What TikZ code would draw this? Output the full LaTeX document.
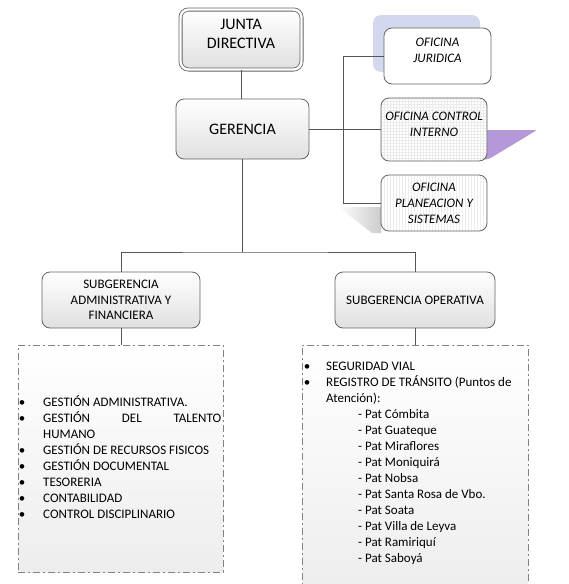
\documentclass[tikz,border=0pt]{standalone}
\usepackage{fontspec}
\setmainfont{Carlito}
\usetikzlibrary{patterns}
\definecolor{bord}{RGB}{100,100,100}
\definecolor{boxbot}{RGB}{224,224,224}
\definecolor{lav}{RGB}{212,216,238}
\definecolor{purp}{RGB}{180,152,216}
\definecolor{linec}{RGB}{85,85,85}
\definecolor{dashc}{RGB}{130,130,130}
\newcommand{\twolines}[3]{\raisebox{#1}[0pt][0pt]{\begin{tabular}{@{}c@{}}#2\\#3\end{tabular}}}
\begin{document}
\begin{tikzpicture}[x=1pt,y=-1pt,
  orgbox/.style={draw=bord, line width=0.8pt, rounded corners=8pt, top color=white, bottom color=boxbot,
    align=center, inner sep=1pt, font=\fontsize{13}{15.5}\selectfont},
  bigbox/.style={orgbox, font=\fontsize{16}{19}\selectfont},
  office/.style={draw=bord, line width=0.8pt, rounded corners=8pt, align=center, inner sep=1pt,
    font=\fontsize{13}{16}\selectfont\itshape},
  conn/.style={draw=linec, line width=0.9pt},
  listbox/.style={draw=dashc, line width=0.8pt, dash pattern=on 7pt off 3pt on 2pt off 3pt,
    top color=white, bottom color=gray!14, minimum width=#1},
  item/.style={anchor=base west, inner sep=0pt, font=\fontsize{13}{16}\selectfont},
  bul/.style={anchor=base, inner sep=0pt, font=\fontsize{13}{16}\selectfont}
]
\useasboundingbox (0,0) rectangle (568,584);

% decorative shadows
\path[fill=lav, rounded corners=8pt] (373,15) rectangle (480,72);
\path[fill=purp, rounded corners=2pt] (480,130) -- (537,130) -- (489,159) -- (480,160) -- cycle;
\shade[left color=white, right color=gray!40] (338,207) -- (381,207) -- (381,233) -- (372,233) -- cycle;

% main boxes
\node[bigbox, double=white, double distance=2.4pt, minimum width=121pt, minimum height=60pt] (junta) at (241,39.5) {\twolines{0pt}{JUNTA}{DIRECTIVA}};
\node[bigbox, minimum width=133pt, minimum height=60pt] (gerencia) at (242.5,129) {GERENCIA};

\node[office, fill=white, minimum width=107pt, minimum height=56pt] (juridica) at (437.5,56) {\twolines{1.5pt}{OFICINA}{JURIDICA}};
\node[office, preaction={fill=white}, pattern=grid, pattern color=gray!16, minimum width=106pt, minimum height=63pt] (control) at (434,129.5) {\twolines{1pt}{OFICINA CONTROL}{INTERNO}};
\node[office, preaction={fill=white}, pattern=vertical lines, pattern color=gray!14, minimum width=106pt, minimum height=56pt] (planeacion) at (434,203) {OFICINA\\PLANEACION Y\\SISTEMAS};

\node[orgbox, minimum width=158pt, minimum height=56pt] (subadm) at (121,300) {SUBGERENCIA\\ADMINISTRATIVA Y\\FINANCIERA};
\node[orgbox, minimum width=160pt, minimum height=56pt] (subop) at (415,300) {SUBGERENCIA OPERATIVA};

\node[listbox=205pt, minimum height=227pt] (leftbox) at (120.5,458.5) {};
\node[listbox=226pt, minimum height=250pt] (rightbox) at (415,470) {};

% connectors
\coordinate (busc) at (242,252);
\coordinate (vx) at (343,0);
\draw[conn] (junta.south) -- (junta.south |- gerencia.north);
\draw[conn] (gerencia.south -| busc) -- (busc);
\draw[conn] (subadm.north) |- (busc) -| (subop.north);
\draw[conn] (gerencia.east) -- (control.west |- gerencia.east);
\draw[conn] (juridica.west) -| (vx |- planeacion.west) -- (planeacion.west);
\draw[conn] (subadm.south) -- (subadm.south |- leftbox.north);
\draw[conn] (subop.south) -- (subop.south |- rightbox.north);

% left list
\node[bul] (lb1) at (22,406) {•};
\node[bul] (lb2) at (22,422) {•};
\node[bul] (lb3) at (22,454) {•};
\node[bul] (lb4) at (22,470) {•};
\node[bul] (lb5) at (22,486) {•};
\node[bul] (lb6) at (22,502) {•};
\node[bul] (lb7) at (22,518) {•};
\node[item] (lt1) at (43,406) {GESTIÓN ADMINISTRATIVA.};
\node[item] (lt2) at (43,422) {\makebox[178pt][s]{GESTIÓN\hfill DEL\hfill TALENTO}};
\node[item] (lt2b) at (43,438) {HUMANO};
\node[item] (lt3) at (43,454) {GESTIÓN DE RECURSOS FISICOS};
\node[item] (lt4) at (43,470) {GESTIÓN DOCUMENTAL};
\node[item] (lt5) at (43,486) {TESORERIA};
\node[item] (lt6) at (43,502) {CONTABILIDAD};
\node[item] (lt7) at (43,518) {CONTROL DISCIPLINARIO};

% right list
\node[bul] (rb1) at (307,370) {•};
\node[bul] (rb2) at (307,386) {•};
\node[item] (rt1) at (326,370) {SEGURIDAD VIAL};
\node[item] (rt2) at (326,386) {REGISTRO DE TRÁNSITO (Puntos de};
\node[item] (rt2b) at (326,402) {Atención):};
\node[item] (p1) at (358,418) {- Pat Cómbita};
\node[item] (p2) at (358,434) {- Pat Guateque};
\node[item] (p3) at (358,450) {- Pat Miraflores};
\node[item] (p4) at (358,466) {- Pat Moniquirá};
\node[item] (p5) at (358,482) {- Pat Nobsa};
\node[item] (p6) at (358,498) {- Pat Santa Rosa de Vbo.};
\node[item] (p7) at (358,514) {- Pat Soata};
\node[item] (p8) at (358,530) {- Pat Villa de Leyva};
\node[item] (p9) at (358,546) {- Pat Ramiriquí};
\node[item] (p10) at (358,562) {- Pat Saboyá};
\end{tikzpicture}
\end{document}
